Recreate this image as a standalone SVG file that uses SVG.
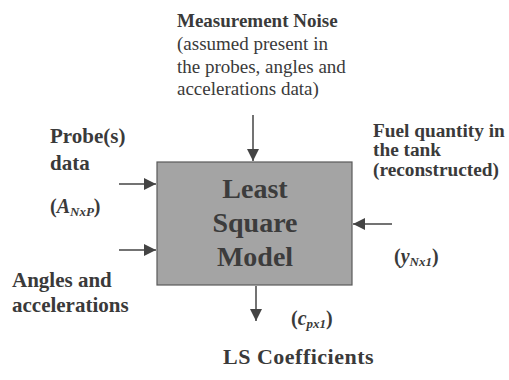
<svg xmlns="http://www.w3.org/2000/svg" width="509" height="380" viewBox="0 0 509 380" font-family="Liberation Serif, DejaVu Serif, serif">
<style>
text{fill:#3a3a3a}
.b{font-weight:bold;font-size:20px}
.t{font-weight:bold;font-size:19px}
.r{font-size:19px}
.l{font-weight:bold;font-size:21px}
.f{font-weight:bold;font-size:19.3px}
.ls{font-weight:bold;font-size:22px;letter-spacing:0.5px}
.big{font-weight:bold;font-size:28px;fill:#3c3c3c}
.i{font-style:italic}
.s{font-style:italic;font-size:13px}
.c{stroke:#444;stroke-width:1.5;fill:none}
</style>
<defs>
<marker id="ah" viewBox="0 0 10 10" refX="10" refY="5" markerWidth="12" markerHeight="12" markerUnits="userSpaceOnUse" orient="auto">
<path d="M0,0L10,5L0,10z" fill="#444"/>
</marker>
</defs>
<rect width="509" height="380" fill="#fff"/>
<g id="connectors">
<line class="c" x1="253" y1="115" x2="253" y2="161" marker-end="url(#ah)"/>
<line class="c" x1="119" y1="184" x2="156" y2="184" marker-end="url(#ah)"/>
<line class="c" x1="119" y1="250" x2="156" y2="250" marker-end="url(#ah)"/>
<line class="c" x1="392" y1="224" x2="353" y2="224" marker-end="url(#ah)"/>
<line class="c" x1="256" y1="286" x2="256" y2="321" marker-end="url(#ah)"/>
</g>
<g id="model">
<rect x="157" y="162" width="195" height="123" fill="#a4a4a4" stroke="#5a5a5a" stroke-width="1.2"/>
<text class="big" x="255" y="198" text-anchor="middle">Least</text>
<text class="big" x="255" y="232" text-anchor="middle">Square</text>
<text class="big" x="255" y="266" text-anchor="middle">Model</text>
</g>
<g id="noise">
<text class="t" x="177" y="27">Measurement Noise</text>
<text class="r" x="177" y="50">(assumed present in</text>
<text class="r" x="177" y="73">the probes, angles and</text>
<text class="r" x="177" y="95">accelerations data)</text>
</g>
<g id="probe">
<text class="l" x="50" y="143">Probe(s)</text>
<text class="l" x="50" y="170">data</text>
<text class="b" x="50" y="213">(<tspan class="i">A</tspan><tspan class="s" dy="3">NxP</tspan><tspan dy="-3">)</tspan></text>
</g>
<g id="angles">
<text class="l" x="12" y="287">Angles and</text>
<text class="l" x="12" y="312">accelerations</text>
</g>
<g id="fuel">
<text class="f" x="373" y="137">Fuel quantity in</text>
<text class="f" x="373" y="156">the tank</text>
<text class="f" x="373" y="176">(reconstructed)</text>
<text class="b" x="394" y="263">(<tspan class="i">y</tspan><tspan class="s" dy="3">Nx1</tspan><tspan dy="-3">)</tspan></text>
</g>
<g id="coeff">
<text class="b" x="291" y="325">(<tspan class="i">c</tspan><tspan class="s" dy="3">px1</tspan><tspan dy="-3">)</tspan></text>
<text class="ls" x="223" y="364">LS Coefficients</text>
</g>
</svg>
